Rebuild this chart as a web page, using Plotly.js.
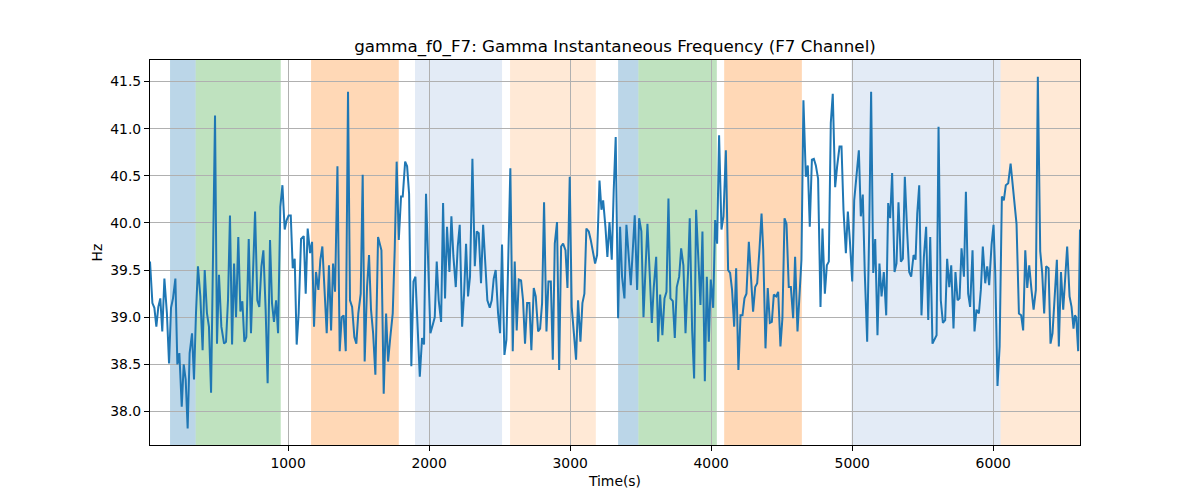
<!DOCTYPE html>
<html>
<head>
<meta charset="utf-8">
<script src="https://cdn.plot.ly/plotly-3.0.1.min.js"></script>
<style>html,body{margin:0;padding:0;background:#fff;}#chart{width:1200px;height:500px;}</style>
</head>
<body>
<div id="chart"></div>
<script>
// Time axis (s) and gamma instantaneous frequency (Hz)
const time = [
21,38,52,66,80,94,108,123,141,156,170,184,201,215,229,246,260,274,288,302,319,333,347,361,378,394,409,425,439,454,482,496,510,527,
546,560,574,588,603,617,631,647,662,676,690,704,721,737,766,782,796,811,825,841,855,872,886,900,915,929,945,960,976,990,1004,1019,1033,1047,1061,1075,1092,
1111,1125,1139,1156,1170,1184,1198,1215,1229,1243,1260,1274,1290,1305,1319,1333,1350,1366,1380,1394,1409,1425,1439,1454,1470,1484,1498,1515,1529,1543,1560,1574,1588,1603,1619,1638,
1662,1678,1695,1709,1725,1742,1756,1770,1785,1801,1813,1830,1844,1858,1874,1889,1903,1919,1934,1950,1964,1978,1995,2009,2026,2040,2054,2068,2085,2099,2113,2127,2144,2158,2172,
2189,2203,2217,2234,2248,2262,2276,2290,2307,2324,2338,2352,2368,2383,2399,2413,2430,2444,2458,2472,2489,2503,2517,2534,2548,2562,2576,2593,2607,2621,2636,2652,2666,2680,2695,2711,2725,
2742,2756,2773,2787,2801,2815,2832,2846,2863,2877,2891,2907,2922,2936,2950,2967,2981,2997,3011,3026,3042,3056,3073,3087,3101,3115,3132,3146,3163,3177,3191,3208,3222,3234,3250,3264,3279,
3295,3309,3323,3340,3354,3368,3385,3399,3413,3430,3444,3458,3475,3489,3505,3520,3534,3548,3565,3579,3593,3610,3624,3638,3654,3669,3683,3697,3711,3728,3742,3756,3773,3787,3803,3818,
3836,3848,3865,3879,3893,3910,3924,3938,3955,3969,3983,3997,4014,4028,4042,4056,4073,4087,4104,4120,4134,4148,4163,4177,4193,4208,4222,4236,4250,4267,4281,4297,4312,4326,4342,4357,4369,
4385,4401,4416,4430,4444,4461,4475,4491,4505,4520,4534,4550,4565,4581,4595,4612,4626,4640,4654,4671,4685,4699,4714,4728,4742,4758,4775,4789,4806,4820,4834,4848,4862,4879,4893,4910,
4924,4938,4955,4969,4983,5000,5014,5030,5047,5061,5075,5089,5106,5120,5134,5149,5163,5179,5193,5208,5224,5241,5255,5269,5283,5300,5314,5328,5345,5359,5373,5390,5404,5418,5435,5449,5461,
5475,5491,5508,5524,5539,5553,5569,5584,5598,5612,5628,5643,5659,5673,5688,5702,5718,5732,5747,5761,5775,5792,5806,5822,5836,5853,5867,5881,5898,5912,5926,5943,5957,5971,5988,6002,
6014,6030,6045,6061,6075,6089,6106,6123,6137,6151,6165,6182,6198,6212,6227,6241,6255,6271,6286,6302,6316,6333,6347,6361,6375,6392,6406,6420,6437,6451,6465,6480,6496,6510,6524,6541,6555,6569,6579,6588,6602,6615
];
const freq = [
39.59,39.15,39.10,38.90,39.11,39.20,38.85,39.41,39.04,38.51,39.10,39.20,39.41,38.50,38.62,38.05,38.50,38.34,37.82,38.62,38.83,38.34,39.04,39.54,39.22,38.65,39.50,39.04,38.90,38.20,41.14,38.72,39.45,38.90,
38.72,38.74,39.18,40.08,38.71,39.57,39.00,39.85,39.06,39.17,38.74,38.79,39.83,38.83,40.12,39.18,39.11,39.54,39.71,39.08,38.30,39.82,39.15,38.95,39.18,38.83,40.17,40.40,39.93,40.03,40.08,40.08,39.52,39.62,38.71,39.04,39.83,
39.86,39.25,39.94,39.68,39.80,38.90,39.48,39.29,39.61,39.75,39.29,38.83,39.55,38.86,39.57,39.27,40.60,38.64,39.00,39.02,38.64,41.39,39.18,39.11,38.79,38.72,39.04,39.25,40.51,38.53,39.32,39.66,39.08,38.83,38.39,39.85,
39.71,38.19,39.04,38.53,38.79,39.04,39.71,40.65,39.82,40.28,40.28,40.65,40.60,40.31,38.48,39.38,39.43,38.90,38.37,38.78,38.71,40.31,39.45,38.83,38.92,39.00,39.59,39.18,38.95,40.21,39.20,39.96,39.48,40.07,39.65,
39.32,39.75,39.98,38.90,39.25,39.78,39.22,39.43,40.68,39.54,39.91,39.89,39.36,39.98,39.54,39.18,39.10,39.18,39.41,39.50,39.04,38.83,39.77,38.60,38.76,39.77,40.58,38.64,39.59,38.86,39.40,39.39,39.18,38.72,39.15,39.15,38.65,
39.31,39.22,38.85,38.88,39.15,40.22,38.85,39.38,39.38,38.55,39.78,40.01,38.44,39.75,39.78,39.71,39.31,40.49,39.11,38.83,38.55,39.18,38.74,39.15,39.25,39.94,39.91,39.82,39.68,39.57,39.66,40.45,40.14,40.24,39.96,39.64,40.01,
39.61,40.35,40.91,38.99,39.96,39.43,39.20,39.98,39.68,39.34,39.71,40.08,39.29,40.05,39.91,39.00,39.50,39.99,39.43,38.94,39.32,39.64,38.74,39.24,38.81,39.20,39.27,40.26,39.20,39.17,38.78,39.32,39.43,39.73,39.55,38.83,
39.48,40.05,38.86,38.35,40.14,39.52,39.13,39.91,38.32,39.43,38.74,39.40,39.10,40.03,39.78,40.93,39.93,40.07,40.77,39.50,39.47,39.29,38.90,39.52,38.44,39.02,39.02,39.20,39.25,39.80,39.43,39.06,39.32,39.36,39.71,40.10,39.71,
38.67,39.31,38.94,38.95,39.24,39.22,39.27,38.69,38.99,40.05,39.99,39.32,39.32,38.99,39.64,38.85,39.32,39.61,41.30,40.49,40.61,39.96,40.67,40.68,40.61,40.47,39.11,39.94,39.25,39.55,39.59,41.06,41.37,40.38,40.60,40.81,
40.81,40.14,39.68,40.12,39.82,39.38,40.24,40.49,40.77,40.07,40.30,39.47,38.74,39.89,41.39,39.47,39.83,38.81,39.57,39.22,39.48,39.02,40.21,40.05,40.53,39.48,39.57,40.22,39.59,39.62,40.49,39.89,39.48,39.43,39.66,39.61,40.10,
40.40,39.02,39.64,39.96,38.97,39.85,38.72,38.76,38.81,41.02,39.18,38.94,38.97,39.62,39.32,39.55,38.88,39.48,39.18,39.20,39.73,39.43,40.33,39.25,39.11,39.71,38.85,39.08,39.04,39.29,39.75,39.36,39.54,39.34,39.77,39.98,
39.47,38.27,38.69,40.28,40.24,40.40,40.42,40.63,40.44,40.24,39.99,39.04,39.02,38.86,39.71,39.31,39.55,39.29,39.08,39.29,41.55,39.70,39.47,39.04,39.54,39.52,38.72,38.83,39.32,39.61,38.69,39.48,39.08,39.40,39.75,39.22,39.11,38.88,39.02,39.00,38.64,39.93
];

// Shaded intervals (s) and their kind
const regionStart = [163, 345, 1163, 1900, 2574, 3340, 3484, 4092, 4995, 6052];
const regionEnd   = [345, 948, 1785, 2517, 3182, 3484, 4040, 4643, 6052, 6617];
const regionKind  = ['blue', 'green', 'orange', 'lightblue', 'lightorange', 'blue', 'green', 'orange', 'lightblue', 'lightorange'];

const yTicks = [38.0, 38.5, 39.0, 39.5, 40.0, 40.5, 41.0, 41.5];
const xTicks = [1000, 2000, 3000, 4000, 5000, 6000];

const kindFill = {
  blue: 'rgba(31,119,180,0.3)',
  green: 'rgba(44,160,44,0.3)',
  orange: 'rgba(255,127,14,0.3)',
  lightblue: 'rgba(60,110,190,0.14)',
  lightorange: 'rgba(255,127,14,0.17)'
};

const n = Math.min(time.length, freq.length);
const tx = time.slice(0, n), fy = freq.slice(0, n);

const shapes = regionStart.map((s, i) => ({
  type: 'rect', xref: 'x', yref: 'paper', x0: s, x1: regionEnd[i], y0: 0, y1: 1,
  fillcolor: kindFill[regionKind[i]], line: {width: 0}, layer: 'below'
}));

const font = {family: 'DejaVu Sans, sans-serif', size: 13.9, color: '#000'};

const data = [{
  x: tx, y: fy, type: 'scatter', mode: 'lines',
  line: {color: '#1f77b4', width: 2}, hoverinfo: 'skip'
}];

const layout = {
  width: 1200, height: 500,
  margin: {l: 150, r: 120, t: 60, b: 55},
  paper_bgcolor: '#fff', plot_bgcolor: 'rgba(0,0,0,0)',
  font: font,
  showlegend: false,
  title: {text: 'gamma_f0_F7: Gamma Instantaneous Frequency (F7 Channel)',
          font: {family: 'DejaVu Sans, sans-serif', size: 16.7, color: '#000'},
          x: 0.5125, xanchor: 'center', xref: 'container', y: 0.908, yref: 'container', yanchor: 'middle'},
  xaxis: {
    range: [tx[0], tx[n - 1]], tickvals: xTicks, ticktext: xTicks.map(String),
    showgrid: true, gridcolor: '#b0b0b0', gridwidth: 1,
    zeroline: false, showline: true, linecolor: '#000', linewidth: 1, mirror: true,
    ticks: 'outside', ticklen: 5, tickcolor: '#000', tickwidth: 1,
    tickfont: font,
    title: {text: 'Time(s)', font: font, standoff: 6}
  },
  yaxis: {
    range: [37.645, 41.728], tickvals: yTicks, ticktext: yTicks.map(v => v.toFixed(1)),
    showgrid: true, gridcolor: '#b0b0b0', gridwidth: 1,
    zeroline: false, showline: true, linecolor: '#000', linewidth: 1, mirror: true,
    ticks: 'outside', ticklen: 5, tickcolor: '#000', tickwidth: 1,
    tickfont: font,
    title: {text: 'Hz', font: font, standoff: 4}
  },
  shapes: shapes
};

Plotly.newPlot('chart', data, layout, {displayModeBar: false, staticPlot: true});
</script>
</body>
</html>
